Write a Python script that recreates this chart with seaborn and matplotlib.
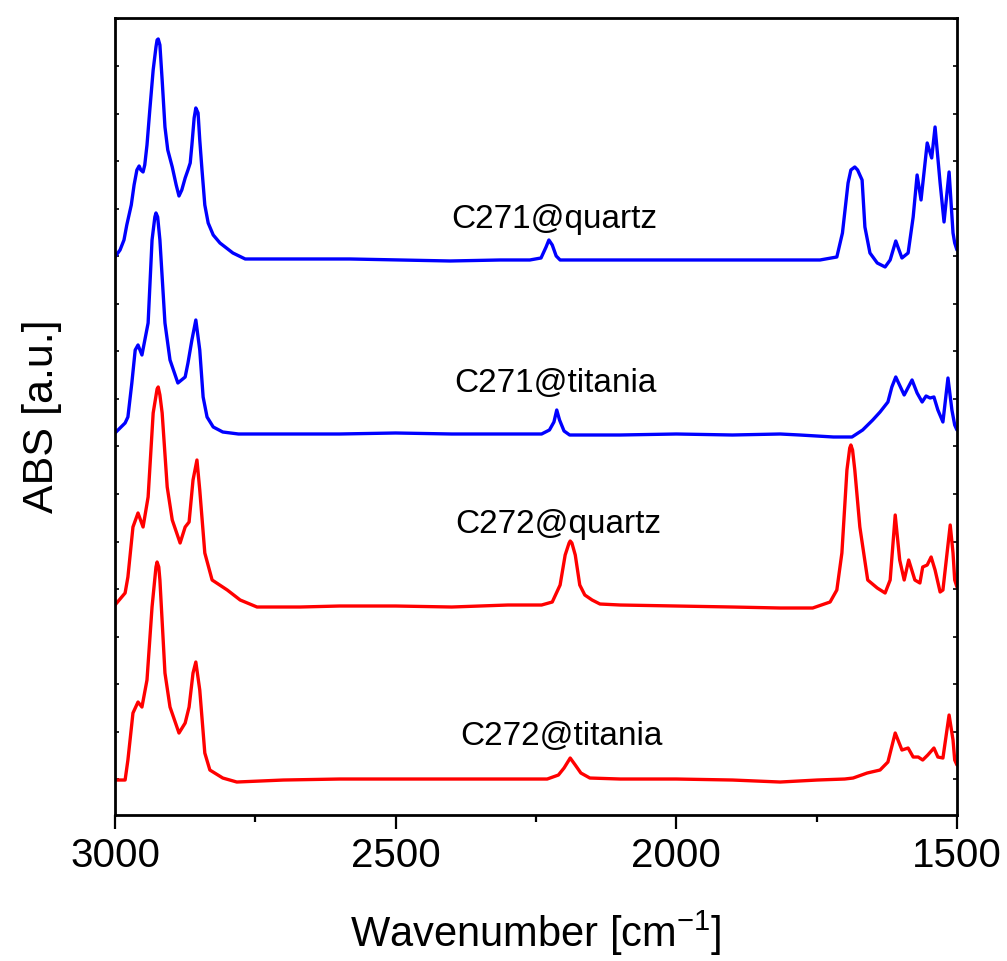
import numpy as np
import pandas as pd
import matplotlib
matplotlib.use("Agg")
import matplotlib.pyplot as plt
import seaborn as sns

# ---------------- data (wavenumber [cm-1], stacked absorbance [a.u.]) ----------------
wn_c271_quartz = [3000, 2991, 2984, 2979, 2971, 2966, 2961, 2957, 2954, 2950, 2947, 2943, 2938, 2932,
                  2927, 2925, 2923, 2920, 2916, 2911, 2906, 2898, 2891, 2886, 2881, 2875, 2870, 2866, 2863,
                  2859, 2856, 2852, 2849, 2845, 2840, 2834, 2825, 2813, 2790, 2768, 2742, 2670, 2581,
                  2492, 2403, 2314, 2261, 2241, 2232, 2227, 2221, 2214, 2207, 2136, 1958, 1869, 1815,
                  1744, 1714, 1704, 1694, 1689, 1682, 1677, 1669, 1664, 1655, 1642, 1628, 1619, 1609,
                  1598, 1587, 1578, 1571, 1564, 1553, 1545, 1539, 1530, 1523, 1514, 1507, 1504, 1500]
abs_c271_quartz = [558, 565, 575, 590, 610, 630, 645, 649, 645, 643, 650, 670, 705, 745,
                   768, 775, 776, 770, 735, 688, 665, 648, 630, 619, 625, 637, 645, 652, 670,
                   697, 707, 702, 675, 645, 610, 592, 580, 572, 562, 556, 556, 556, 556,
                   555, 554, 555, 555, 557, 568, 575, 570, 559, 555, 555, 555, 555, 555,
                   555, 558, 582, 632, 645, 648, 645, 635, 588, 562, 552, 548, 555, 574,
                   557, 562, 598, 640, 615, 672, 657, 688, 632, 593, 643, 582, 572, 565]

wn_c271_titania = [3000, 2982, 2977, 2970, 2964, 2959, 2952, 2941, 2934, 2929, 2927, 2924, 2920, 2911, 2902, 2888,
                   2875, 2870, 2863, 2856, 2849, 2843, 2836, 2825, 2808, 2780, 2700, 2600, 2500, 2400,
                   2300, 2240, 2226, 2218, 2213, 2208, 2200, 2190, 2100, 2000, 1900, 1815, 1780, 1720,
                   1687, 1668, 1650, 1637, 1623, 1616, 1609, 1594, 1580, 1571, 1562, 1555, 1548, 1541,
                   1534, 1525, 1516, 1509, 1504, 1500]
abs_c271_titania = [382, 392, 398, 432, 465, 470, 460, 492, 575, 598, 602, 598, 575, 492, 455, 432,
                    438, 452, 475, 495, 465, 418, 398, 388, 383, 381, 381, 381, 382, 381,
                    381, 381, 385, 393, 405, 395, 384, 380, 380, 381, 380, 381, 380, 378,
                    378, 385, 395, 403, 413, 428, 438, 420, 435, 422, 413, 419, 417, 418,
                    405, 393, 437, 405, 390, 385]

wn_c272_quartz = [3000, 2982, 2977, 2968, 2959, 2950, 2941, 2932, 2925, 2923, 2920, 2916, 2907, 2898, 2884, 2875,
                  2868, 2861, 2854, 2849, 2840, 2827, 2800, 2777, 2747, 2670, 2600, 2500, 2400, 2300,
                  2240, 2221, 2207, 2198, 2191, 2189, 2186, 2180, 2172, 2163, 2150, 2136, 2100, 2000, 1900, 1815,
                  1757, 1726, 1714, 1705, 1696, 1691, 1689, 1686, 1682, 1673, 1659, 1642, 1628, 1619, 1610, 1602,
                  1594, 1586, 1575, 1566, 1561, 1553, 1546, 1539, 1530, 1525, 1512, 1507, 1504, 1500]
abs_c272_quartz = [210, 222, 238, 288, 302, 288, 318, 402, 426, 428, 420, 402, 328, 295, 272, 288,
                   293, 335, 355, 325, 262, 235, 225, 215, 208, 208, 209, 209, 208, 210,
                   210, 213, 230, 260, 272, 274, 272, 260, 230, 220, 215, 211, 210, 209, 208, 207,
                   207, 213, 225, 262, 345, 367, 370, 365, 345, 288, 235, 227, 222, 235, 300, 255,
                   235, 255, 235, 232, 248, 250, 258, 245, 223, 225, 290, 262, 235, 228]

wn_c272_titania = [3000, 2982, 2977, 2968, 2959, 2952, 2943, 2934, 2927, 2925, 2922, 2920, 2911, 2902, 2886, 2875,
                   2868, 2861, 2856, 2849, 2840, 2831, 2808, 2783, 2700, 2600, 2500, 2400, 2300, 2230,
                   2210, 2200, 2189, 2180, 2170, 2154, 2100, 2000, 1900, 1815, 1749, 1700, 1685, 1660,
                   1637, 1623, 1610, 1598, 1587, 1578, 1569, 1561, 1552, 1541, 1534, 1525, 1514, 1507,
                   1504, 1500]
abs_c272_titania = [35, 35, 55, 102, 113, 108, 135, 208, 248, 253, 248, 235, 142, 108, 82, 92,
                    108, 142, 153, 125, 62, 45, 37, 33, 35, 36, 36, 36, 36, 36,
                    40, 47, 57, 50, 42, 37, 36, 36, 35, 33, 35, 36, 37, 42,
                    45, 53, 82, 65, 67, 58, 58, 55, 60, 67, 58, 57, 100, 75,
                    55, 50]

series_names = ["C271@quartz", "C271@titania", "C272@quartz", "C272@titania"]
series_colors = ["#0000FF", "#0000FF", "#FF0000", "#FF0000"]
label_wn = [2218, 2216, 2210, 2205]
label_abs = [587, 423, 282, 70]

x_ticks = [3000, 2500, 2000, 1500]
x_minor = [2750, 2250, 1750]

# ---------------- build long-form table ----------------
frames = []
for name, wn, ab in zip(series_names,
                        [wn_c271_quartz, wn_c271_titania, wn_c272_quartz, wn_c272_titania],
                        [abs_c271_quartz, abs_c271_titania, abs_c272_quartz, abs_c272_titania]):
    frames.append(pd.DataFrame({"wn": wn, "abs": ab, "sample": name}))
df = pd.concat(frames, ignore_index=True)

# ---------------- style ----------------
sns.set_theme(style="ticks")
plt.rcParams["font.family"] = ["Liberation Sans", "DejaVu Sans"]
plt.rcParams["mathtext.fontset"] = "custom"
plt.rcParams["mathtext.rm"] = "Liberation Sans"
plt.rcParams["mathtext.it"] = "Liberation Sans"
plt.rcParams["mathtext.default"] = "regular"
for key in ["text.color", "axes.labelcolor", "xtick.color", "ytick.color", "axes.edgecolor"]:
    plt.rcParams[key] = "black"

fig = plt.figure(figsize=(10.07, 9.61), dpi=100)
ax = fig.add_axes([0.1142, 0.1519, 0.8361, 0.8294])

sns.lineplot(data=df, x="wn", y="abs", hue="sample", palette=dict(zip(series_names, series_colors)),
             estimator=None, sort=True, linewidth=2.4, legend=False, ax=ax)
for line in ax.get_lines():
    line.set_solid_joinstyle("round")

ax.set_xlim(3000, 1500)
ax.set_ylim(0, 797)

ax.set_xticks(x_ticks)
ax.set_xticklabels([str(t) for t in x_ticks])
ax.set_xticks(x_minor, minor=True)
ax.tick_params(axis="x", which="major", direction="out", length=10, width=1.6,
               labelsize=29, pad=6, top=False, colors="black")
ax.tick_params(axis="x", which="minor", direction="out", length=5, width=1.6, top=False, colors="black")

ax.set_yticks(36 + 47.5 * np.arange(17))
ax.tick_params(axis="y", which="major", direction="in", length=3, width=1.2,
               left=True, right=True, labelleft=False, colors="black")

for sp in ax.spines.values():
    sp.set_linewidth(2.0)
    sp.set_color("black")

ax.set_xlabel(r"Wavenumber [cm$^{-1}$]", fontsize=30, labelpad=24, color="black")
ax.set_ylabel("ABS [a.u.]", fontsize=31, labelpad=38, color="black")

for name, lx, ly in zip(series_names, label_wn, label_abs):
    ax.text(lx, ly, name, fontsize=24, ha="center", va="baseline", color="black")

fig.savefig("out.png", dpi=100)
